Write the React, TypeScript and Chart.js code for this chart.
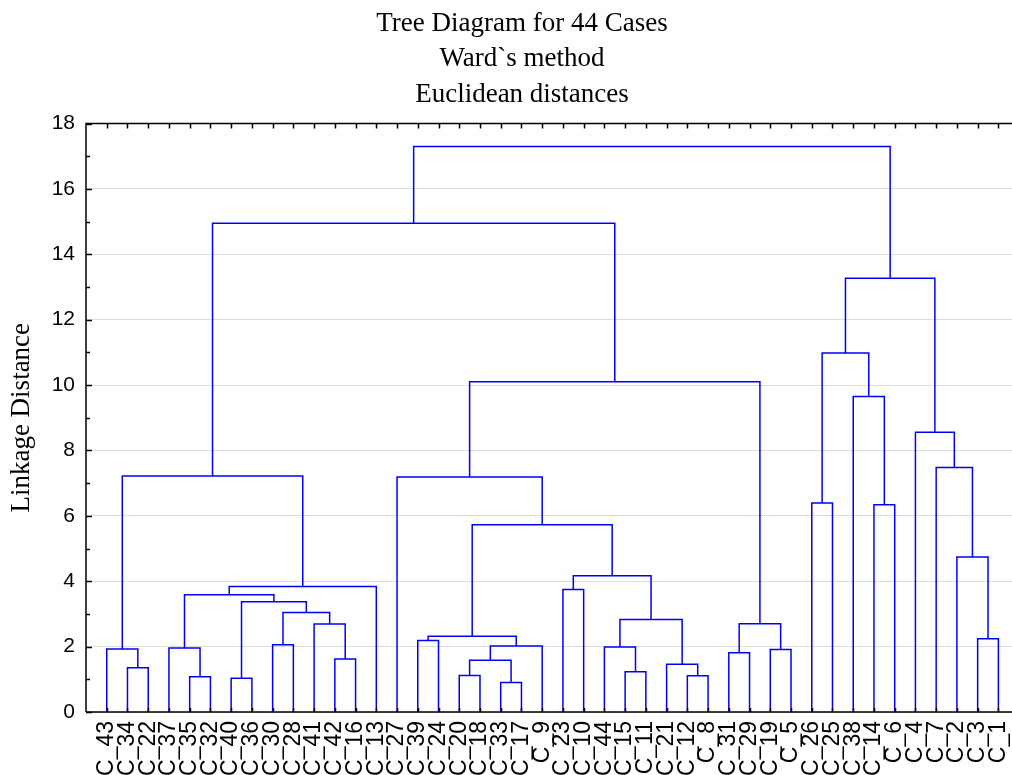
import React, { useEffect, useRef } from "react";
import { Chart, registerables } from "chart.js";

Chart.register(...registerables);

const titleLines = ["Tree Diagram for 44 Cases", "Ward`s method", "Euclidean distances"];
const yAxisTitle = "Linkage Distance";

const leafLabels = [
  "C_43", "C_34", "C_22", "C_37", "C_35", "C_32", "C_40", "C_36", "C_30", "C_28", "C_41",
  "C_42", "C_16", "C_13", "C_27", "C_39", "C_24", "C_20", "C_18", "C_33", "C_17", "C_9",
  "C_23", "C_10", "C_44", "C_15", "C_11", "C_21", "C_12", "C_8", "C_31", "C_29", "C_19",
  "C_5", "C_26", "C_25", "C_38", "C_14", "C_6", "C_4", "C_7", "C_2", "C_3", "C_1",
];

// Each merge k joins mergeA[k] and mergeB[k] (a leaf label or "M<index>") at mergeHeights[k]
const mergeA = [
  "C_34", "C_43", "C_35", "C_37", "C_40", "C_30", "C_42", "C_41", "M5", "M4", "M3", "M10", "M1",
  "C_39", "C_20", "C_33", "M14", "M16", "M13", "C_23", "C_15", "C_44", "C_12", "C_21", "M21", "M19",
  "M18", "C_27", "C_31", "C_19", "M28", "M27", "M12",
  "C_26", "C_14", "C_38", "M33", "C_3", "C_2", "C_7", "C_4", "M36", "M32",
];
const mergeB = [
  "C_22", "M0", "C_32", "M2", "C_36", "C_28", "C_16", "M6", "M7", "M8", "M9", "C_13", "M11",
  "C_24", "C_18", "C_17", "M15", "C_9", "M17", "C_10", "C_11", "M20", "C_8", "M22", "M23", "M24",
  "M25", "M26", "C_29", "C_5", "M29", "M30", "M31",
  "C_25", "C_6", "M34", "M35", "C_1", "M37", "M38", "M39", "M40", "M41",
];
const mergeHeights = [
  1.35, 1.93, 1.08, 1.96, 1.03, 2.06, 1.62, 2.69, 3.04, 3.37, 3.59, 3.84, 7.22,
  2.19, 1.12, 0.9, 1.58, 2.02, 2.32, 3.75, 1.23, 1.99, 1.11, 1.46, 2.83, 4.17,
  5.73, 7.19, 1.81, 1.91, 2.7, 10.1, 14.95,
  6.39, 6.34, 9.65, 10.98, 2.24, 4.74, 7.48, 8.56, 13.27, 17.3,
];

const xMax = 46.2;
const yMin = 0;
const yMax = 18;
const yMajorStep = 2;
const yMinorStep = 1;

const lineColor = "#0000ff";

function buildDatasets() {
  const pos: Record<string, { x: number; h: number }> = {};
  leafLabels.forEach((l, i) => {
    pos[l] = { x: i + 1, h: 0 };
  });
  const datasets: any[] = [];
  mergeHeights.forEach((H, k) => {
    const a = pos[mergeA[k]];
    const b = pos[mergeB[k]];
    pos["M" + k] = { x: (a.x + b.x) / 2, h: H };
    datasets.push({
      data: [
        { x: a.x, y: a.h },
        { x: a.x, y: H },
        { x: b.x, y: H },
        { x: b.x, y: b.h },
      ],
      showLine: true,
      borderColor: lineColor,
      borderWidth: 1.5,
      pointRadius: 0,
      tension: 0,
      fill: false,
    });
  });
  return datasets;
}

const framePlugin = {
  id: "frameTicks",
  afterDatasetsDraw(chart: any) {
    const { ctx, chartArea, scales } = chart;
    const { left, right, top, bottom } = chartArea;
    const xs = scales.x;
    const ys = scales.y;
    ctx.save();
    ctx.strokeStyle = "#000";
    ctx.lineWidth = 1.5;
    ctx.beginPath();
    ctx.moveTo(left, bottom);
    ctx.lineTo(left, top);
    ctx.lineTo(right, top);
    ctx.lineTo(right, bottom);
    ctx.lineTo(left, bottom);
    ctx.stroke();
    ctx.beginPath();
    leafLabels.forEach((_, i) => {
      const px = Math.round(xs.getPixelForValue(i + 1)) + 0.5;
      ctx.moveTo(px, top);
      ctx.lineTo(px, top + 5);
      ctx.moveTo(px, bottom);
      ctx.lineTo(px, bottom - 4);
    });
    for (let v = yMin; v <= yMax; v += yMinorStep) {
      const py = Math.round(ys.getPixelForValue(v)) + 0.5;
      const len = v % yMajorStep === 0 ? 6 : 4;
      ctx.moveTo(left, py);
      ctx.lineTo(left + len, py);
    }
    ctx.stroke();
    ctx.restore();
  },
};

export default function App() {
  const ref = useRef<HTMLCanvasElement | null>(null);

  useEffect(() => {
    if (!ref.current) return;
    const chart = new Chart(ref.current, {
      type: "scatter",
      data: { datasets: buildDatasets() },
      options: {
        responsive: false,
        animation: false,
        devicePixelRatio: 1,
        events: [],
        layout: { padding: 0 },
        plugins: {
          legend: { display: false },
          tooltip: { enabled: false },
          title: {
            display: true,
            text: titleLines,
            color: "#000",
            font: { family: "'Liberation Serif', 'Times New Roman', serif", size: 27, weight: "normal", lineHeight: 1.315 },
            padding: { top: 6, bottom: 11 },
          },
        },
        scales: {
          x: {
            type: "linear",
            min: 0,
            max: xMax,
            border: { display: false },
            grid: { display: false, drawTicks: false },
            afterBuildTicks: (scale: any) => {
              scale.ticks = leafLabels.map((_, i) => ({ value: i + 1 }));
            },
            afterFit: (scale: any) => {
              scale.height = 88;
            },
            ticks: {
              autoSkip: false,
              minRotation: 90,
              maxRotation: 90,
              padding: 9,
              color: "#000",
              font: { family: "'Liberation Sans', Arial, sans-serif", size: 23 },
              callback: (v: any) => {
                const i = Math.round(Number(v)) - 1;
                return leafLabels[i] ?? "";
              },
            },
          },
          y: {
            type: "linear",
            min: yMin,
            max: yMax,
            border: { display: false },
            grid: { color: "#dcdcdc", lineWidth: 1, drawTicks: false },
            afterFit: (scale: any) => {
              scale.width = 86;
            },
            ticks: {
              stepSize: yMajorStep,
              padding: 11,
              color: "#000",
              font: { family: "'Liberation Sans', Arial, sans-serif", size: 21 },
            },
            title: {
              display: true,
              text: yAxisTitle,
              color: "#000",
              font: { family: "'Liberation Serif', 'Times New Roman', serif", size: 27, weight: "normal" },
              padding: { top: 6, bottom: 0 },
            },
          },
        },
      },
      plugins: [framePlugin],
    });
    return () => chart.destroy();
  }, []);

  return (
    <div style={{ position: "absolute", left: 0, top: 0, width: 1012, height: 775, overflow: "hidden", background: "#fff" }}>
      <canvas ref={ref} width={1044} height={800} style={{ display: "block" }} />
    </div>
  );
}
